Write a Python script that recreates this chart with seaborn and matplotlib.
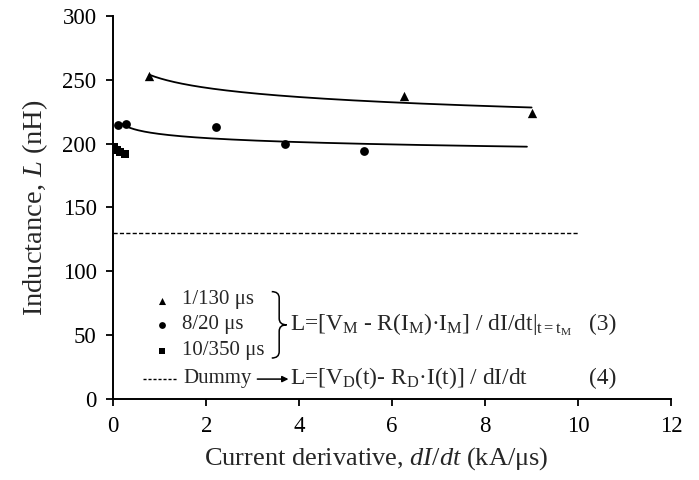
import numpy as np
import pandas as pd
import matplotlib.pyplot as plt
import matplotlib.path as mpath
import matplotlib.patches as mpatches
import seaborn as sns

# measured points, dI/dt (kA/us) vs L (nH)
x_130 = [0.78, 6.25, 9.0]
L_130 = [253, 237, 224]
x_820 = [0.11, 0.27, 2.2, 3.7, 5.4]
L_820 = [214.6, 215.4, 213, 200, 194]
x_10350 = [0.02, 0.08, 0.15, 0.25]
L_10350 = [197, 195, 193, 192]
dummy_x = [0, 10]
dummy_L = [130, 130]

sns.set_style('ticks')
plt.rcParams['font.family'] = ['Liberation Serif', 'DejaVu Serif']
plt.rcParams['mathtext.fontset'] = 'custom'
plt.rcParams['mathtext.rm'] = 'Liberation Serif'
plt.rcParams['mathtext.it'] = 'Liberation Serif:italic'

fig, ax = plt.subplots(figsize=(6.99, 4.8), dpi=100)
fig.subplots_adjust(left=0.162, right=0.96, top=0.967, bottom=0.169)


def power_fit(x, y, x0, x1):
    # excel-style power trendline
    b, lna = np.polyfit(np.log(x), np.log(y), 1)
    xs = np.linspace(x0, x1, 200)
    return xs, np.exp(lna) * xs ** b


xs, ys = power_fit(x_130, L_130, x_130[0], 9.0)
sns.lineplot(x=xs, y=ys, color='black', lw=1.3, ax=ax)
xs, ys = power_fit(x_820, L_820, 0.19, 8.9)
sns.lineplot(x=xs, y=ys, color='black', lw=1.3, ax=ax)

sns.scatterplot(x=x_130, y=L_130, marker='^', color='black', s=45, linewidth=0, ax=ax)
sns.scatterplot(x=x_820, y=L_820, marker='o', color='black', s=40, linewidth=0, ax=ax)
sns.scatterplot(x=x_10350, y=L_10350, marker='s', color='black', s=30, linewidth=0, ax=ax)
sns.lineplot(x=dummy_x, y=dummy_L, color='black', lw=1.0, ax=ax, linestyle=(0, (3, 1.6)))

ax.set_xlim(0, 12)
ax.set_ylim(0, 300)
ax.set_xticks(range(0, 13, 2))
ax.set_yticks(range(0, 301, 50))
ax.tick_params(direction='out', length=5, width=1.3, labelsize=16.5, colors='black', pad=7)
for s in ['left', 'bottom']:
    ax.spines[s].set_linewidth(1.4)
    ax.spines[s].set_color('black')
sns.despine(ax=ax)

ax.set_xlabel('Current derivative, $\\mathit{dI/dt}$ (kA/\u03bcs)', fontsize=19)
ax.xaxis.set_label_coords(0.472, -0.12)
ax.set_ylabel('Inductance, $\\mathit{L}$ (nH)', fontsize=20.5, labelpad=9)

# hand-made legend block
fs = 15
ax.scatter([1.05], [77], marker='^', color='black', s=26, linewidths=0)
ax.scatter([1.05], [57.5], marker='o', color='black', s=24, linewidths=0)
ax.scatter([1.05], [37.5], marker='s', color='black', s=20, linewidths=0)
ax.text(1.48, 78, '1/130 \u03bcs', fontsize=fs, va='center')
ax.text(1.48, 58, '8/20 \u03bcs', fontsize=fs, va='center')
ax.text(1.48, 38, '10/350 \u03bcs', fontsize=fs, va='center')

# curly brace
x0, x1 = 3.41, 3.73
xm = (x0 + x1) / 2
yt, yb, ymid, d = 84, 32, 58, 5
verts = [(x0, yt), (xm, yt), (xm, yt - d), (xm, ymid + d), (xm, ymid), (x1, ymid),
         (xm, ymid), (xm, ymid - d), (xm, yb + d), (xm, yb), (x0, yb)]
P = mpath.Path
codes = [P.MOVETO, P.CURVE3, P.CURVE3, P.LINETO, P.CURVE3, P.CURVE3,
         P.CURVE3, P.CURVE3, P.LINETO, P.CURVE3, P.CURVE3]
ax.add_patch(mpatches.PathPatch(P(verts, codes), fill=False, lw=1.1, color='black'))

fe = 16.8
ax.text(3.8, 58, 'L=[V$_\\mathregular{M}$ - R(I$_\\mathregular{M}$)\u00b7I$_\\mathregular{M}$] / dI/dt'
        '|$_{\\mathregular{t=t}_\\mathregular{M}}$', fontsize=fe, va='center')
ax.text(10.54, 58, '(3)', fontsize=fe, va='center', ha='center')

ax.plot([0.64, 1.38], [15.5, 15.5], color='black', lw=1.0, linestyle=(0, (2.2, 1.4)))
ax.text(1.5, 16, 'Dummy', fontsize=fs, va='center')
ax.annotate('', xy=(3.77, 15.5), xytext=(3.1, 15.5),
            arrowprops=dict(arrowstyle='-|>', color='black', lw=1.1,
                            mutation_scale=9, shrinkA=0, shrinkB=0))
ax.text(3.8, 16, 'L=[V$_\\mathregular{D}$(t)- R$_\\mathregular{D}$\u00b7I(t)] / dI/dt',
        fontsize=fe, va='center')
ax.text(10.54, 16, '(4)', fontsize=fe, va='center', ha='center')

plt.savefig('out.png', dpi=100)
